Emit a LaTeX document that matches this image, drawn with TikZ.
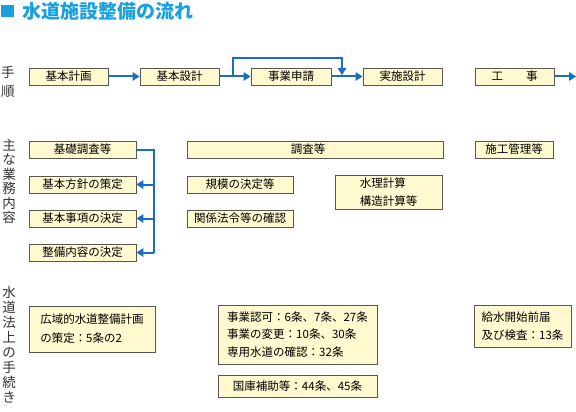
\documentclass[tikz,border=0pt]{standalone}
\usepackage{fontspec}
\setmainfont{Noto Sans CJK JP}
\usetikzlibrary{arrows.meta}

\definecolor{titleblue}{RGB}{24,160,225}
\definecolor{flowblue}{RGB}{28,108,192}
\definecolor{boxfill}{RGB}{255,250,208}
\definecolor{boxline}{RGB}{90,88,78}

\tikzset{
  box/.style={draw=boxline, fill=boxfill, line width=0.9pt, inner sep=0pt,
    minimum height=17, font=\fontsize{11.5}{17.5}\selectfont},
  side/.style={anchor=north, inner sep=0pt, align=center, text=black!80},
  flow/.style={draw=flowblue, line width=2pt, -{Triangle[length=7pt,width=8.5pt]}},
  link/.style={draw=flowblue, line width=2pt}
}

\begin{document}
\begin{tikzpicture}[x=1pt,y=-1pt]
  \useasboundingbox (0,0) rectangle (576,412);

  % Title
  \fill[titleblue] (1,5) rectangle (14,17);
  \node[anchor=west, inner sep=0pt, text=titleblue, font=\bfseries\fontsize{19}{19}\selectfont]
    (title) at (22,11) {水道施設整備の流れ};

  % Left column labels
  \node[side, font=\fontsize{13.5}{19}\selectfont] (lab1) at (8,66) {手\\順};
  \node[side, font=\fontsize{13.5}{14.5}\selectfont] (lab2) at (9,139) {主\\な\\業\\務\\内\\容};
  \node[side, font=\fontsize{13.5}{15}\selectfont] (lab3) at (9,286) {水\\道\\法\\上\\の\\手\\続\\き};

  % Procedure row
  \node[box, minimum width=79] (plan) at (68.5,76.5) {基本計画};
  \node[box, minimum width=79] (basic) at (179.5,76.5) {基本設計};
  \node[box, minimum width=80] (apply) at (291,76.5) {事業申請};
  \node[box, minimum width=79] (detail) at (402.5,76.5) {実施設計};
  \node[box, minimum width=79] (works) at (514.5,76.5) {工\hspace{2em}事};
  \coordinate (out) at (576,76.5);
  \coordinate (join) at (342,75);

  \draw[flow] (plan) -- (basic);
  \draw[flow] (basic) -- (apply);
  \draw[flow] (apply) -- (detail);
  \draw[flow] (works) -- (out);
  \draw[flow] (basic.east) -- ++(14,0) |- (342,58) -- (join);

  % Main tasks
  \node[box, minimum width=107] (survey) at (82.5,149.5) {基礎調査等};
  \node[box, minimum width=107] (policy) at (82.5,184.5) {基本方針の策定};
  \node[box, minimum width=107] (items) at (82.5,218.5) {基本事項の決定};
  \node[box, minimum width=107] (content) at (82.5,252.5) {整備内容の決定};
  \coordinate (bar) at (154,149.5);

  \draw[link] (survey.east) -- (bar) -- (bar |- content.east);
  \draw[flow] (bar |- policy.east) -- (policy);
  \draw[flow] (bar |- items.east) -- (items);
  \draw[flow] (bar |- content.east) -- (content);

  \node[box, minimum width=256] (study) at (315,149.5) {\hspace{-14pt}調査等};
  \node[box, minimum width=106] (scale) at (240,184.5) {規模の決定等};
  \node[box, minimum width=106] (laws) at (240,218.5) {関係法令等の確認};
  \node[box, minimum width=107, minimum height=34, align=left] (calc) at (388.5,192) {水理計算\\構造計算等};
  \node[box, minimum width=78] (manage) at (514,149.5) {施工管理等};

  % Procedures under the Waterworks Act
  \node[box, minimum width=126, minimum height=46, align=left,
    font=\fontsize{11.5}{19}\selectfont] (region) at (92,329) {広域的水道整備計画\\の策定：5条の2};
  \node[box, minimum width=159, minimum height=59, align=left] (permit) at (297.5,334.5)
    {事業認可：6条、7条、27条\\事業の変更：10条、30条\\専用水道の確認：32条};
  \node[box, minimum width=159, minimum height=22] (subsidy) at (297.5,386) {国庫補助等：44条、45条};
  \node[box, minimum width=97, minimum height=42, align=left] (supply) at (522.5,326)
    {給水開始前届\\及び検査：13条};
\end{tikzpicture}
\end{document}
